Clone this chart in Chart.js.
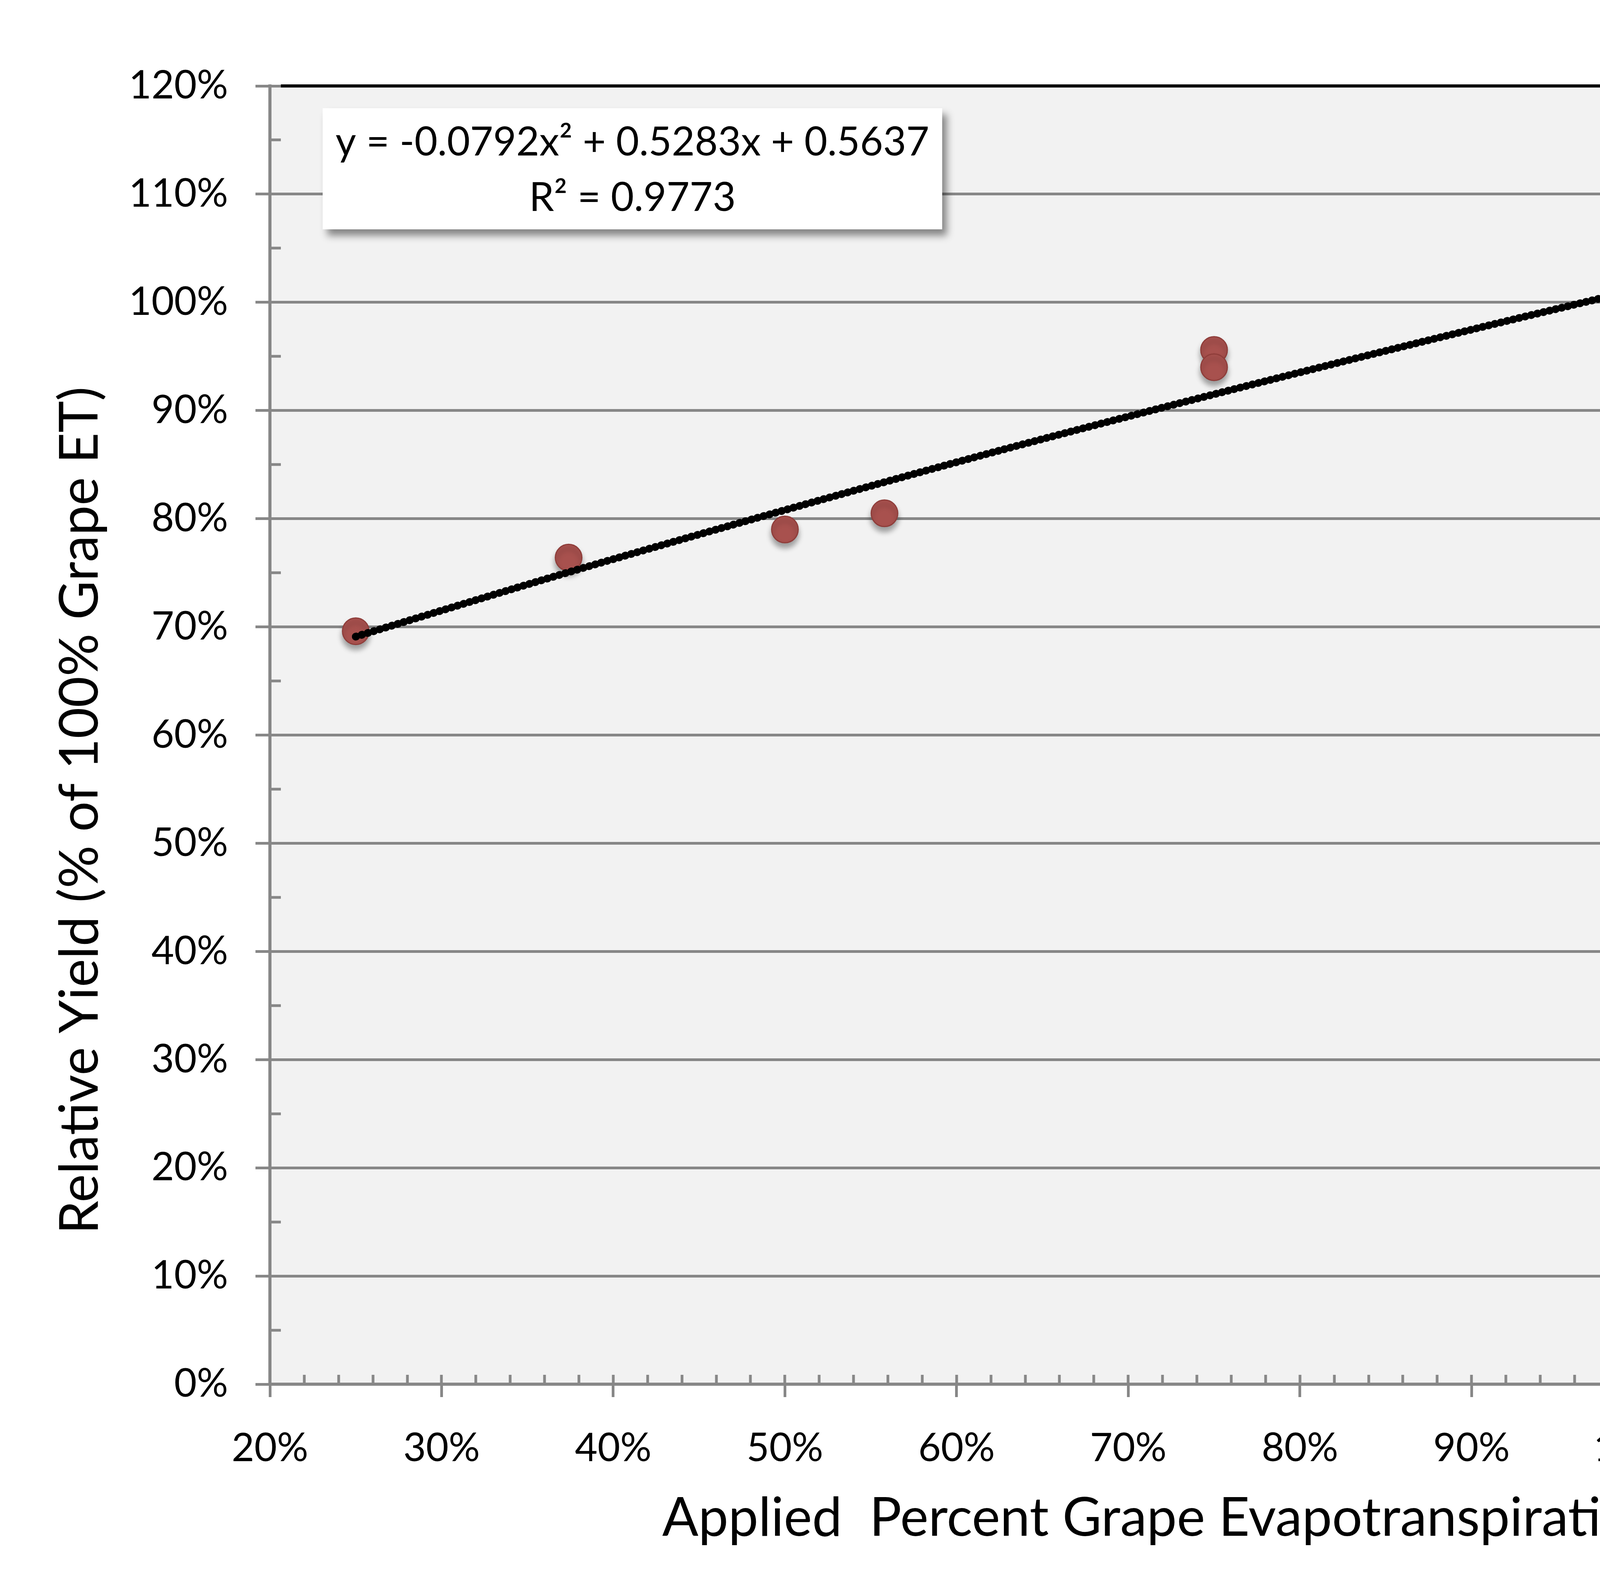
<!DOCTYPE html>
<html>
<head>
<meta charset="utf-8">
<title>Relative Yield vs Applied ET</title>
<script src="https://cdn.jsdelivr.net/npm/chart.js@4.4.1/dist/chart.umd.min.js"></script>
<style>
  html, body { margin: 0; padding: 0; background: #ffffff; }
  #wrap { width: 5731px; height: 4057px; }
</style>
</head>
<body>
<div id="wrap"><canvas id="yieldChart" width="5731" height="4057"></canvas></div>
<script>
// Observed points (percent of grape ET applied -> relative yield %)
const appliedET = [25, 37.4, 50, 55.8, 75, 75, 100, 112, 125];
const relYield = [69.6, 76.4, 79.0, 80.5, 95.6, 94.0, 100.4, 104.7, 111.5];

// Polynomial trendline
const trendET = [25, 37.5, 50, 62.5, 75, 87.5, 100, 112.5, 125];
const trendYield = [69.1, 75.1, 80.8, 86.3, 91.5, 96.5, 101.3, 105.8, 110.0];

// Text in the chart
const equationLines = ['y = -0.0792x² + 0.5283x + 0.5637', 'R² = 0.9773'];
const sourceLines = ['Cabernet Sauvignon,', '2 Paso Robles Locations', 'Source: Williams, LE.'];
const xTitle = 'Applied  Percent Grape Evapotranspiration (ET)';
const yTitle = 'Relative Yield (% of 100% Grape ET)';

const FONT = 'Lato, "Open Sans", sans-serif';
const GRID = '#878787';

// background, minor ticks, black frame and the two text boxes
const decor = {
    id: 'decor',
    beforeDraw(chart) {
        const a = chart.chartArea, c = chart.ctx;
        c.save();
        c.fillStyle = '#f2f2f2';
        c.fillRect(a.left, a.top, a.right - a.left, a.bottom - a.top);
        c.restore();
    },
    beforeDatasetsDraw(chart) {
        const a = chart.chartArea, c = chart.ctx;
        const xs = chart.scales.x, ys = chart.scales.y;
        c.save();
        c.strokeStyle = GRID;
        c.lineWidth = 7;
        // x minor ticks every 2%, pointing inside
        for (let v = xs.min + 2; v < xs.max; v += 2) {
            const px = Math.round(xs.getPixelForValue(v));
            c.beginPath();
            c.moveTo(px, a.bottom);
            c.lineTo(px, a.bottom - 24);
            c.stroke();
        }
        // y minor ticks every 5%, pointing inside
        for (let v = ys.min + 5; v < ys.max; v += 10) {
            const py = Math.round(ys.getPixelForValue(v));
            c.beginPath();
            c.moveTo(a.left, py);
            c.lineTo(a.left + 28, py);
            c.stroke();
        }
        // black top and right frame
        c.strokeStyle = '#000000';
        c.lineWidth = 8;
        c.beginPath();
        c.moveTo(a.left + 28, a.top);
        c.lineTo(a.right, a.top);
        c.lineTo(a.right, a.bottom + 4);
        c.stroke();
        c.restore();
    },
    afterDraw(chart) {
        const a = chart.chartArea, c = chart.ctx;
        function box(x, y, w, h) {
            c.save();
            c.shadowColor = 'rgba(0,0,0,0.45)';
            c.shadowBlur = 18;
            c.shadowOffsetX = 12;
            c.shadowOffsetY = 16;
            c.fillStyle = '#ffffff';
            c.fillRect(x, y, w, h);
            c.restore();
        }
        // equation box
        const ex = a.left + 135, ey = a.top + 57, ew = 1586, eh = 310;
        box(ex, ey, ew, eh);
        c.save();
        c.fillStyle = '#000000';
        c.font = '102px ' + FONT;
        c.textAlign = 'center';
        c.textBaseline = 'middle';
        c.fillText(equationLines[0], ex + ew / 2, ey + 88);
        c.fillText(equationLines[1], ex + ew / 2, ey + 230);
        c.restore();
        // source box
        const sw = 959, sh = 391;
        const sx = a.right - 73 - sw, sy = a.bottom - 74 - sh;
        box(sx, sy, sw, sh);
        c.save();
        c.fillStyle = '#000000';
        c.font = '78px ' + FONT;
        c.textAlign = 'left';
        c.textBaseline = 'middle';
        sourceLines.forEach((t, i) => c.fillText(t, sx + 62, sy + 88 + i * 107));
        c.restore();
    }
};

// soft shadow under the markers
const markerShadow = {
    id: 'markerShadow',
    beforeDatasetDraw(chart, args) {
        if (args.index !== 1) return;
        const c = chart.ctx;
        c.save();
        c.shadowColor = 'rgba(0,0,0,0.35)';
        c.shadowBlur = 14;
        c.shadowOffsetY = 12;
    },
    afterDatasetDraw(chart, args) {
        if (args.index !== 1) return;
        chart.ctx.restore();
    }
};

const ctx = document.getElementById('yieldChart').getContext('2d');
const yieldChart = new Chart(ctx, {
    type: 'scatter',
    data: {
        datasets: [{
            label: 'Trendline',
            type: 'line',
            data: trendET.map((x, i) => ({ x: x, y: trendYield[i] })),
            borderColor: '#000000',
            borderWidth: 20,
            borderDash: [1, 15],
            borderCapStyle: 'round',
            tension: 0.3,
            pointRadius: 0,
            fill: false,
            order: 0
        }, {
            label: 'Relative yield',
            data: appliedET.map((x, i) => ({ x: x, y: relYield[i] })),
            backgroundColor: '#a8514e',
            borderColor: '#8f3d3a',
            borderWidth: 3,
            pointRadius: 34,
            order: 1
        }]
    },
    options: {
        responsive: false,
        devicePixelRatio: 1,
        animation: false,
        layout: { padding: { left: 0, top: 220, right: 206, bottom: 0 } },
        plugins: {
            legend: { display: false },
            tooltip: { enabled: false }
        },
        scales: {
            x: {
                type: 'linear',
                min: 20,
                max: 130,
                ticks: {
                    stepSize: 10,
                    padding: 72,
                    color: '#000000',
                    font: { family: FONT, size: 100 },
                    callback: v => v + '%'
                },
                grid: {
                    drawOnChartArea: false,
                    color: GRID,
                    lineWidth: 7,
                    tickLength: 33
                },
                border: { color: GRID, width: 8 },
                title: {
                    display: true,
                    text: xTitle,
                    color: '#000000',
                    font: { family: FONT, size: 137 },
                    padding: { top: 0, bottom: 88 }
                },
                afterFit: scale => { scale.height = 514; }
            },
            y: {
                min: 0,
                max: 120,
                ticks: {
                    stepSize: 10,
                    padding: 70,
                    color: '#000000',
                    font: { family: FONT, size: 100 },
                    callback: v => v + '%'
                },
                grid: {
                    color: GRID,
                    lineWidth: 7,
                    tickLength: 37
                },
                border: { color: GRID, width: 8 },
                title: {
                    display: true,
                    text: yTitle + '           ',
                    color: '#000000',
                    font: { family: FONT, size: 137 },
                    padding: { top: 124, bottom: 0 }
                },
                afterFit: scale => { scale.width = 691; }
            }
        }
    },
    plugins: [decor, markerShadow]
});
</script>
</body>
</html>
